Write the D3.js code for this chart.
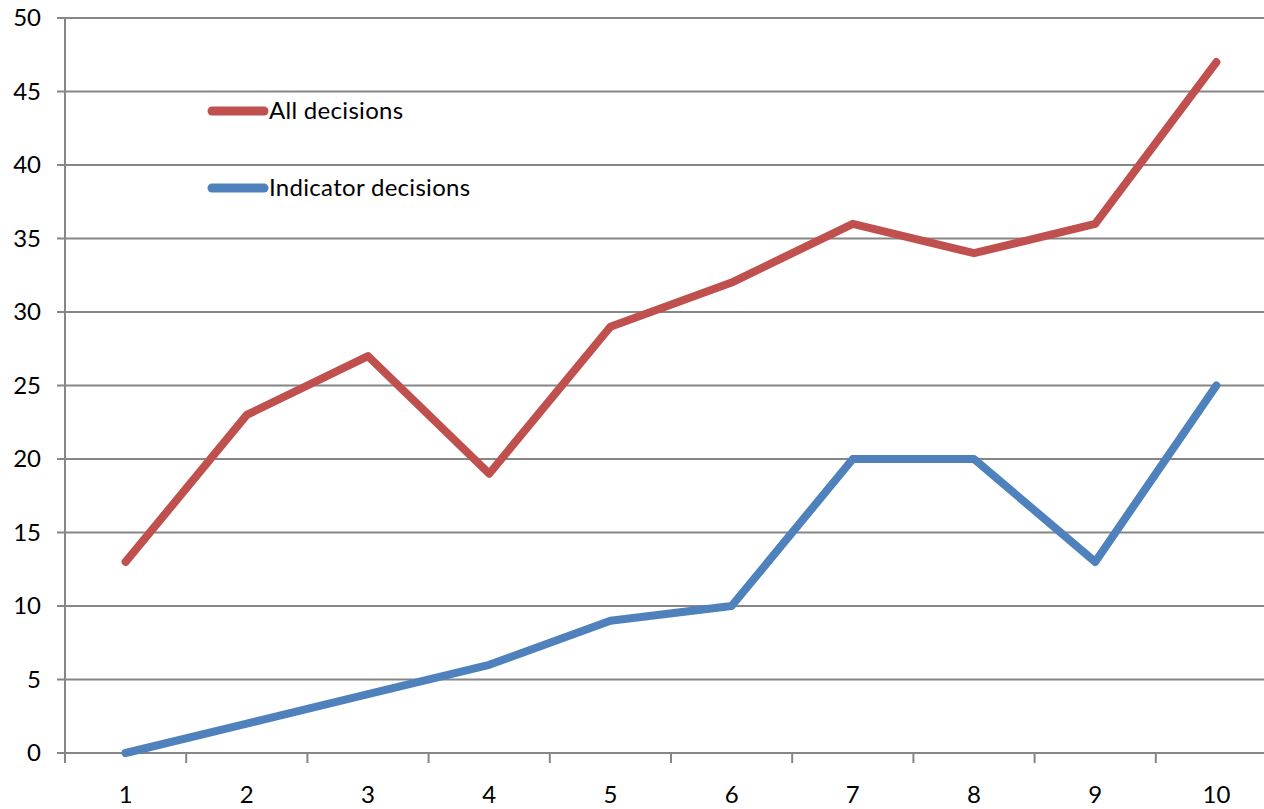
<!DOCTYPE html>
<html><head><meta charset="utf-8">
<script src="https://cdn.jsdelivr.net/npm/d3@7"></script>
<style>html,body{margin:0;padding:0;background:#fff;overflow:hidden}</style>
</head><body>
<svg id="c" width="1264" height="809"></svg>
<script>
const categories = ["1","2","3","4","5","6","7","8","9","10"];
const allDecisions = [13,23,27,19,29,32,36,34,36,47];
const indicatorDecisions = [0,2,4,6,9,10,20,20,13,25];
const yTicks = [0,5,10,15,20,25,30,35,40,45,50];
const seriesNames = ["All decisions","Indicator decisions"];
const seriesColors = ["#C0504D","#4F81BD"];

const svg = d3.select("#c");
const font = "Lato, 'Open Sans', sans-serif";
const fs = 24;
const x = d3.scaleBand().domain(categories).range([65, 1277]).padding(0);
const y = d3.scaleLinear().domain([0,50]).range([753, 18]);

// gridlines
svg.append("g").selectAll("line").data(yTicks).join("line")
  .attr("x1", 57).attr("x2", 1264)
  .attr("y1", d=>y(d)).attr("y2", d=>y(d))
  .attr("stroke", "#868686").attr("stroke-width", 2);

// y axis line
svg.append("line").attr("x1",65).attr("x2",65).attr("y1",y(50)).attr("y2",y(0)+10)
  .attr("stroke","#868686").attr("stroke-width",2);

// x ticks between categories
const xTickPos = categories.map(c=>x(c)).concat([x.range()[1]]);
svg.append("g").selectAll("line").data(xTickPos).join("line")
  .attr("x1", d=>d).attr("x2", d=>d).attr("y1", y(0)).attr("y2", y(0)+10)
  .attr("stroke","#868686").attr("stroke-width",2);

// y labels
svg.append("g").selectAll("text").data(yTicks).join("text")
  .attr("x", 41).attr("y", d=>y(d)).attr("dy","0.35em")
  .attr("text-anchor","end").attr("font-family",font).attr("font-size",fs)
  .attr("fill","#000").text(d=>d);

// x labels
svg.append("g").selectAll("text").data(categories).join("text")
  .attr("x", d=>x(d)+x.bandwidth()/2).attr("y", 803)
  .attr("text-anchor","middle").attr("font-family",font).attr("font-size",fs)
  .attr("fill","#000").text(d=>d);

const line = d3.line().x((d,i)=>x(categories[i])+x.bandwidth()/2).y(d=>y(d));
[allDecisions, indicatorDecisions].forEach((s,k)=>{
  svg.append("path").datum(s).attr("d", line).attr("fill","none")
    .attr("stroke", seriesColors[k]).attr("stroke-width", 8)
    .attr("stroke-linejoin","round").attr("stroke-linecap","round");
});

// legend
const legY = [111, 188];
seriesNames.forEach((n,k)=>{
  svg.append("line").attr("x1",212).attr("x2",264).attr("y1",legY[k]).attr("y2",legY[k])
    .attr("stroke",seriesColors[k]).attr("stroke-width",9).attr("stroke-linecap","round");
  svg.append("text").attr("x",269).attr("y",legY[k]).attr("dy","0.35em")
    .attr("font-family",font).attr("font-size",fs).attr("letter-spacing","0.3px")
    .attr("fill","#000").text(n);
});
</script>
</body></html>
